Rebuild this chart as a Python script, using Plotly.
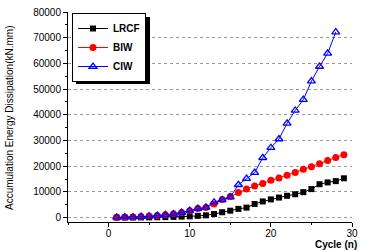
import plotly.graph_objects as go

cycles_lrcf = list(range(1, 30))
lrcf = [10, 30, 50, 80, 100, 150, 200, 300, 400, 500, 700, 900, 1400, 2100, 2700,
        3400, 3900, 5300, 6300, 7100, 7800, 8500, 9100, 9900, 11100, 13000, 13700, 14200, 15300]
cycles_biw = list(range(1, 30))
biw = [100, 150, 250, 400, 600, 800, 1100, 1500, 2000, 2700, 3600, 3900, 5300, 7100, 8200,
       9800, 11100, 12300, 13300, 14500, 15400, 16500, 17600, 18800, 19800, 21000, 22200, 23400, 24500]
cycles_ciw = list(range(1, 29))
ciw = [100, 200, 200, 400, 500, 800, 1100, 1400, 2000, 2700, 3500, 4000, 6000, 6900, 8000,
       12800, 15200, 17500, 23300, 27200, 30600, 36700, 41700, 45900, 53100, 58800, 63900, 72200]

x_ticks = [0, 10, 20, 30]
y_ticks = [0, 10000, 20000, 30000, 40000, 50000, 60000, 70000, 80000]

FONT = "Arial, Liberation Sans, sans-serif"

fig = go.Figure()
fig.add_trace(go.Scatter(x=cycles_lrcf, y=lrcf, name="LRCF", mode="lines+markers",
                         line=dict(color="black", width=1),
                         marker=dict(symbol="square", size=6, color="black")))
fig.add_trace(go.Scatter(x=cycles_biw, y=biw, name="BIW", mode="lines+markers",
                         line=dict(color="red", width=1),
                         marker=dict(symbol="circle", size=7, color="red")))
fig.add_trace(go.Scatter(x=cycles_ciw, y=ciw, name="CIW", mode="lines+markers",
                         line=dict(color="blue", width=1),
                         marker=dict(symbol="triangle-up-open", size=7, color="blue",
                                     line=dict(width=1.3, color="blue"))))

W, H = 367, 250
ml, mr, mt, mb = 68, 15, 12, 28
pw, ph = W - ml - mr, H - mt - mb

def px2paper(x, y):
    return (x - ml) / pw, 1 - (y - mt) / ph

# legend shadow (offset right/down from legend box)
sx0, sy0 = px2paper(76, 17)
sx1, sy1 = px2paper(150, 84)

fig.update_layout(
    width=W, height=H,
    margin=dict(l=ml, r=mr, t=mt, b=mb, autoexpand=False),
    paper_bgcolor="white", plot_bgcolor="white",
    font=dict(family=FONT, size=10, color="black"),
    showlegend=True,
    legend=dict(x=px2paper(72, 13)[0], y=px2paper(72, 13)[1], xanchor="left", yanchor="top",
                bgcolor="white", bordercolor="black", borderwidth=1,
                font=dict(family=FONT, size=10, color="black", weight="bold"),
                tracegroupgap=0, itemwidth=30),
    xaxis=dict(range=[-5, 30], tickvals=x_ticks, ticks="outside", ticklen=4, tickwidth=1,
               tickcolor="black", showline=True, linecolor="black", linewidth=1,
               showgrid=False, zeroline=False, automargin=False, ticklabelstandoff=-2,
               minor=dict(dtick=5, tick0=0, ticks="outside", ticklen=2, tickcolor="black", showgrid=False),
               tickfont=dict(family=FONT, size=10)),
    yaxis=dict(range=[-1700, 80000], tickvals=y_ticks, tickformat="d", ticks="outside", ticklen=4, tickwidth=1,
               tickcolor="black", showline=True, linecolor="black", linewidth=1,
               showgrid=True, gridcolor="#999999", griddash="dot", gridwidth=1, zeroline=False,
               automargin=False,
               minor=dict(dtick=5000, tick0=0, ticks="outside", ticklen=2, tickcolor="black", showgrid=False),
               tickfont=dict(family=FONT, size=10)),
    shapes=[dict(type="rect", xref="paper", yref="paper", x0=sx0, y0=sy1, x1=sx1, y1=sy0,
                 fillcolor="black", line=dict(width=0), layer="above")],
    annotations=[
        dict(text="<b>Cycle (n)</b>", xref="paper", yref="paper",
             x=px2paper(359, 0)[0], y=px2paper(0, 244)[1], xanchor="right", yanchor="middle",
             showarrow=False, font=dict(family=FONT, size=10)),
        dict(text="Accumulation Energy Dissipation(kN.mm)", xref="paper", yref="paper",
             x=px2paper(9, 0)[0], y=px2paper(0, 118)[1], xanchor="center", yanchor="middle",
             textangle=-90, showarrow=False, font=dict(family=FONT, size=10)),
    ],
)

fig.write_html("out.html", config={"displayModeBar": False},
               post_script="document.body.style.margin='0';")
